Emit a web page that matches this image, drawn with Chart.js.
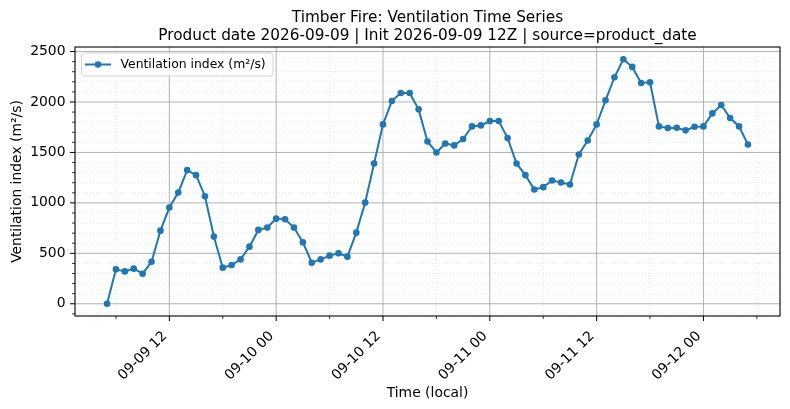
<!DOCTYPE html>
<html>
<head>
<meta charset="utf-8">
<title>Timber Fire: Ventilation Time Series</title>
<script src="https://cdn.jsdelivr.net/npm/chart.js@4/dist/chart.umd.min.js"></script>
<style>
    html, body { margin: 0; padding: 0; background: #ffffff; }
    #wrap { width: 790px; height: 409px; }
</style>
</head>
<body>
<div id="wrap"><canvas id="ventChart" width="790" height="409"></canvas></div>
<script>
// hours counted from 2026-09-09 00:00 local
const hours = [
    5, 6, 7, 8, 9, 10, 11, 12, 13, 14, 15, 16, 17, 18, 19, 20, 21, 22, 23,
    24, 25, 26, 27, 28, 29, 30, 31, 32, 33, 34, 35, 36, 37, 38, 39, 40, 41, 42, 43, 44, 45, 46, 47,
    48, 49, 50, 51, 52, 53, 54, 55, 56, 57, 58, 59, 60, 61, 62, 63, 64, 65, 66, 67, 68, 69, 70, 71,
    72, 73, 74, 75, 76, 77
];
const ventIndex = [
    0, 341, 321, 348, 298, 417, 725, 954, 1103, 1325, 1275, 1066, 666, 358, 384, 440, 566, 732, 755,
    844, 838, 755, 609, 407, 440, 477, 500, 467, 705, 1003, 1391, 1778, 2010, 2089, 2089, 1927, 1609, 1500, 1589, 1570, 1633, 1758,
    1768, 1811, 1811, 1642, 1391, 1275, 1132, 1156, 1222, 1202, 1182, 1480, 1619, 1778, 2017, 2245, 2424, 2348, 2189, 2195, 1758, 1742,
    1745, 1719, 1755, 1758, 1887, 1970, 1841, 1758, 1579
];
const xMajorTicks = [12, 24, 36, 48, 60, 72];
const xTickLabels = ["09-09 12", "09-10 00", "09-10 12", "09-11 00", "09-11 12", "09-12 00"];
const xMinorTicks = [6, 18, 30, 42, 54, 66, 78];
const yMajorTicks = [0, 500, 1000, 1500, 2000, 2500];

const titleLines = ["Timber Fire: Ventilation Time Series",
    "Product date 2026-09-09 | Init 2026-09-09 12Z | source=product_date"];

const FONT = "'DejaVu Sans', sans-serif";
const LINE_COLOR = "#1f77b4";
Chart.defaults.font.family = FONT;
Chart.defaults.color = "#000000";

// grid lines under the data, frame/ticks/title/legend on top
const gridPlugin = {
    id: "mplGrid",
    beforeDatasetsDraw(chart) {
        const ctx = chart.ctx;
        const area = chart.chartArea;
        const xs = chart.scales.x, ys = chart.scales.y;
        ctx.save();
        // minor dotted
        ctx.strokeStyle = "#dcdcdc";
        ctx.lineWidth = 0.7;
        ctx.setLineDash([1, 2]);
        xMinorTicks.forEach(v => {
            const px = xs.getPixelForValue(v);
            if (px < area.left || px > area.right) return;
            ctx.beginPath(); ctx.moveTo(px, area.top); ctx.lineTo(px, area.bottom); ctx.stroke();
        });
        for (let v = -100; v <= 2500; v += 100) {
            if (v % 500 === 0) continue;
            const py = ys.getPixelForValue(v);
            ctx.beginPath(); ctx.moveTo(area.left, py); ctx.lineTo(area.right, py); ctx.stroke();
        }
        // major solid
        ctx.setLineDash([]);
        ctx.strokeStyle = "#a9a9a9";
        ctx.lineWidth = 0.9;
        xMajorTicks.forEach(v => {
            const px = xs.getPixelForValue(v);
            ctx.beginPath(); ctx.moveTo(px, area.top); ctx.lineTo(px, area.bottom); ctx.stroke();
        });
        yMajorTicks.forEach(v => {
            const py = ys.getPixelForValue(v);
            ctx.beginPath(); ctx.moveTo(area.left, py); ctx.lineTo(area.right, py); ctx.stroke();
        });
        ctx.restore();
    },
    afterDraw(chart) {
        const ctx = chart.ctx;
        const area = chart.chartArea;
        const xs = chart.scales.x, ys = chart.scales.y;
        ctx.save();
        // spines
        ctx.strokeStyle = "#000000";
        ctx.lineWidth = 1.1;
        ctx.strokeRect(area.left, area.top, area.right - area.left, area.bottom - area.top);
        // tick marks
        ctx.lineWidth = 1;
        xMajorTicks.forEach(v => {
            const px = xs.getPixelForValue(v);
            ctx.beginPath(); ctx.moveTo(px, area.bottom); ctx.lineTo(px, area.bottom + 5); ctx.stroke();
        });
        ctx.lineWidth = 0.8;
        xMinorTicks.forEach(v => {
            const px = xs.getPixelForValue(v);
            if (px < area.left || px > area.right) return;
            ctx.beginPath(); ctx.moveTo(px, area.bottom); ctx.lineTo(px, area.bottom + 3); ctx.stroke();
        });
        ctx.lineWidth = 1;
        yMajorTicks.forEach(v => {
            const py = ys.getPixelForValue(v);
            ctx.beginPath(); ctx.moveTo(area.left, py); ctx.lineTo(area.left - 5, py); ctx.stroke();
        });
        ctx.lineWidth = 0.8;
        for (let v = -100; v <= 2500; v += 100) {
            if (v % 500 === 0) continue;
            const py = ys.getPixelForValue(v);
            ctx.beginPath(); ctx.moveTo(area.left, py); ctx.lineTo(area.left - 3, py); ctx.stroke();
        }

        // title, centred over the axes
        const cx = (area.left + area.right) / 2;
        ctx.fillStyle = "#000000";
        ctx.font = "15.3px " + FONT;
        ctx.textAlign = "center";
        ctx.textBaseline = "alphabetic";
        ctx.fillText(titleLines[0], cx, 22);
        ctx.fillText(titleLines[1], cx, 40);

        // legend (upper left)
        const ds = chart.data.datasets[0];
        const lx = area.left + 6.5, ly = area.top + 6, lw = 191.5, lh = 23;
        ctx.beginPath();
        ctx.roundRect(lx, ly, lw, lh, 3);
        ctx.fillStyle = "rgba(255,255,255,0.8)";
        ctx.fill();
        ctx.strokeStyle = "#d4d4d4";
        ctx.lineWidth = 1;
        ctx.stroke();
        const my = ly + lh / 2;
        ctx.strokeStyle = ds.borderColor;
        ctx.lineWidth = 2;
        ctx.beginPath(); ctx.moveTo(lx + 3.5, my); ctx.lineTo(lx + 29.5, my); ctx.stroke();
        ctx.fillStyle = ds.borderColor;
        ctx.beginPath(); ctx.arc(lx + 16.5, my, 3.3, 0, Math.PI * 2); ctx.fill();
        ctx.fillStyle = "#000000";
        ctx.font = "12.4px " + FONT;
        ctx.textAlign = "left";
        ctx.textBaseline = "middle";
        ctx.fillText(ds.label, lx + 39, my + 0.5);
        ctx.restore();
    }
};

const ctx = document.getElementById("ventChart").getContext("2d");
new Chart(ctx, {
    type: "line",
    data: {
        datasets: [{
            label: "Ventilation index (m²/s)",
            data: hours.map((h, i) => ({ x: h, y: ventIndex[i] })),
            borderColor: LINE_COLOR,
            backgroundColor: LINE_COLOR,
            borderWidth: 2,
            pointRadius: 3.3,
            pointHoverRadius: 3.3,
            pointBorderWidth: 0,
            tension: 0,
            fill: false
        }]
    },
    options: {
        responsive: false,
        animation: false,
        events: [],
        layout: { padding: { top: 47, right: 10, left: 0, bottom: 0 } },
        plugins: {
            legend: { display: false },
            tooltip: { enabled: false },
            title: { display: false }
        },
        scales: {
            x: {
                type: "linear",
                min: 1.4,
                max: 80.6,
                afterBuildTicks: scale => { scale.ticks = xMajorTicks.map(v => ({ value: v })); },
                afterFit: scale => { scale.height = 93; },
                grid: { display: false, drawTicks: false },
                border: { display: false },
                ticks: {
                    autoSkip: false,
                    minRotation: 45,
                    maxRotation: 45,
                    padding: 12,
                    labelOffset: -4.5,
                    font: { size: 13.9 },
                    color: "#000000",
                    callback: value => xTickLabels[xMajorTicks.indexOf(value)]
                },
                title: {
                    display: true,
                    text: "Time (local)",
                    font: { size: 13.9 },
                    color: "#000000",
                    padding: { top: 0, bottom: 7 }
                }
            },
            y: {
                min: -121.2,
                max: 2545.2,
                afterBuildTicks: scale => { scale.ticks = yMajorTicks.map(v => ({ value: v })); },
                afterFit: scale => { scale.width = 75; },
                grid: { display: false, drawTicks: false },
                border: { display: false },
                ticks: {
                    padding: 9.5,
                    font: { size: 13.9 },
                    color: "#000000",
                    callback: value => String(value)
                },
                title: {
                    display: true,
                    text: "Ventilation index (m²/s)",
                    font: { size: 13.9 },
                    color: "#000000",
                    padding: { top: 9, bottom: 0 }
                }
            }
        }
    },
    plugins: [gridPlugin]
});
</script>
</body>
</html>
